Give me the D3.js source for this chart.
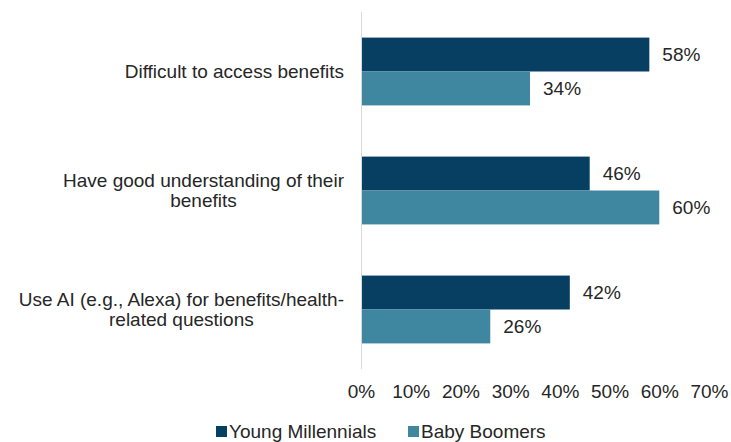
<!DOCTYPE html>
<html>
<head>
<meta charset="utf-8">
<script src="https://cdn.jsdelivr.net/npm/d3@7"></script>
<style>
  body { margin: 0; background: #fff; }
  text { font-family: "Liberation Sans", Arial, sans-serif; fill: #262626; }
</style>
</head>
<body>
<div id="chart"></div>
<script>
// Data
var categories = [
    ["Difficult to access benefits"],
    ["Have good understanding of their", "benefits"],
    ["Use AI (e.g., Alexa) for benefits/health-", "related questions"]
];
var seriesNames = ["Young Millennials", "Baby Boomers"];
var youngMillennials = [58, 46, 42];
var babyBoomers = [34, 60, 26];
var tickValues = [0, 10, 20, 30, 40, 50, 60, 70];

var colors = ["#073f63", "#3f87a0"];
var fontSize = "19px";

var svgWidth = 731;
var svgHeight = 442;

var svg = d3.select("#chart")
    .append("svg")
    .attr("width", svgWidth)
    .attr("height", svgHeight);

// Scales
var xScale = d3.scaleLinear()
    .domain([0, 70])
    .range([361, 709]);

var yScale = d3.scaleBand()
    .domain(d3.range(categories.length))
    .range([12, 369])
    .paddingInner(0.43)
    .paddingOuter(0.215);

var subScale = d3.scaleBand()
    .domain([0, 1])
    .range([0, yScale.bandwidth()]);

var rows = categories.map(function(c, i) {
    return { label: c, values: [youngMillennials[i], babyBoomers[i]] };
});

// Bars and value labels
var groups = svg.selectAll(".group")
    .data(rows)
    .enter().append("g")
    .attr("class", "group")
    .attr("transform", (d, i) => `translate(0, ${yScale(i)})`);

groups.selectAll("rect")
    .data(d => d.values)
    .enter().append("rect")
    .attr("x", xScale(0))
    .attr("y", (d, j) => subScale(j))
    .attr("width", d => xScale(d) - xScale(0))
    .attr("height", subScale.bandwidth())
    .attr("fill", (d, j) => colors[j]);

groups.selectAll(".val")
    .data(d => d.values)
    .enter().append("text")
    .attr("class", "val")
    .attr("x", d => xScale(d) + 13)
    .attr("y", (d, j) => subScale(j) + subScale.bandwidth() / 2)
    .attr("dy", "0.35em")
    .style("font-size", fontSize)
    .text(d => d + "%");

// Category labels: block right-aligned at 344, lines centred inside it
var labelRight = 344;
var lineH = 1.05;
groups.append("text")
    .attr("y", yScale.bandwidth() / 2)
    .attr("text-anchor", "middle")
    .style("font-size", fontSize)
    .each(function(d) {
        var n = d.label.length;
        var t = d3.select(this);
        var spans = d.label.map(function(line, k) {
            return t.append("tspan")
                .attr("dy", k === 0 ? (0.35 - (n - 1) * lineH / 2) + "em" : lineH + "em")
                .text(line);
        });
        var maxW = d3.max(spans, s => s.node().getComputedTextLength());
        spans.forEach(s => s.attr("x", labelRight - maxW / 2));
    });

// Vertical axis line
svg.append("line")
    .attr("x1", xScale(0) + 0.5)
    .attr("x2", xScale(0) + 0.5)
    .attr("y1", 12)
    .attr("y2", 369)
    .attr("stroke", "#d9d9d9")
    .attr("stroke-width", 1);

// Bottom axis, labels only
var bottomAxis = d3.axisBottom(xScale)
    .tickValues(tickValues)
    .tickSize(0)
    .tickPadding(0)
    .tickFormat(d => d + "%");

var axisG = svg.append("g")
    .attr("transform", "translate(0, 384)")
    .call(bottomAxis);
axisG.select(".domain").remove();
axisG.selectAll("text")
    .style("font-size", fontSize)
    .style("font-family", "Liberation Sans, Arial, sans-serif")
    .attr("fill", "#262626");

// Legend
var legendX = [216, 408];
var legend = svg.selectAll(".legend")
    .data(seriesNames)
    .enter().append("g")
    .attr("class", "legend")
    .attr("transform", (d, i) => `translate(${legendX[i]}, 431)`);

legend.append("rect")
    .attr("x", 0)
    .attr("y", -5)
    .attr("width", 11)
    .attr("height", 11)
    .attr("fill", (d, i) => colors[i]);

legend.append("text")
    .attr("x", 13)
    .attr("dy", "0.35em")
    .style("font-size", fontSize)
    .text(d => d);
</script>
</body>
</html>
